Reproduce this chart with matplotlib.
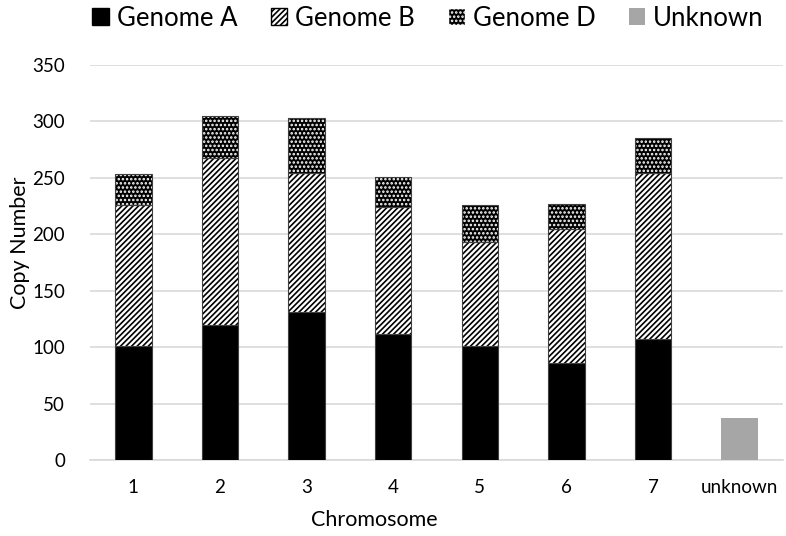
import matplotlib
matplotlib.use("Agg")
import matplotlib.pyplot as plt
import numpy as np
from matplotlib.patches import Patch

plt.rcParams['font.family'] = ['Lato', 'DejaVu Sans']
plt.rcParams['hatch.linewidth'] = 1.2

categories = ['1', '2', '3', '4', '5', '6', '7', 'unknown']
genome_a = [101, 120, 131, 112, 101, 86, 107, 0]
genome_b = [125, 148, 123, 112, 92, 119, 147, 0]
genome_d = [27, 37, 49, 27, 33, 22, 31, 0]
unknown = [0, 0, 0, 0, 0, 0, 0, 37]

fig = plt.figure(figsize=(7.86, 5.36), dpi=100)
ax = fig.add_axes([90/786, 1-460/536, (783-90)/786, (460-65)/536])

x = np.arange(len(categories))
w = 0.42
a = np.array(genome_a); b = np.array(genome_b); d = np.array(genome_d)
n = 7
ax.bar(x[:n], a[:n], w, color='black', edgecolor='#404040', linewidth=0.8, zorder=3)
ax.bar(x[:n], b[:n], w, bottom=a[:n], facecolor='white', edgecolor='black', hatch='//////', linewidth=0, zorder=3)
ax.bar(x[:n], b[:n], w, bottom=a[:n], fill=False, edgecolor='#404040', linewidth=0.8, zorder=4)
ax.bar(x[:n], d[:n], w, bottom=(a+b)[:n], facecolor='black', edgecolor='white', hatch='....', linewidth=0, zorder=3)
ax.bar(x[:n], d[:n], w, bottom=(a+b)[:n], fill=False, edgecolor='#404040', linewidth=0.8, zorder=4)
ax.bar(x[n:], np.array(unknown)[n:], w, color='#A6A6A6', linewidth=0, zorder=3)

handles = [Patch(facecolor='black', edgecolor='black', label='Genome A'),
           Patch(facecolor='white', edgecolor='black', hatch='//////', label='Genome B'),
           Patch(facecolor='black', edgecolor='white', hatch='....', label='Genome D'),
           Patch(facecolor='#A6A6A6', edgecolor='none', label='Unknown')]
leg = fig.legend(handles=handles, loc='center', bbox_to_anchor=(428/786, 1-18/536), ncol=4,
                 frameon=False, fontsize=18.5, handlelength=0.65, handleheight=0.65,
                 handletextpad=0.3, columnspacing=1.3, borderaxespad=0, borderpad=0)

ax.set_ylim(0, 350)
ax.set_xlim(-0.5, 7.5)
ax.set_yticks(range(0, 351, 50))
ax.set_xticks(x)
ax.set_xticklabels(categories)
ax.yaxis.grid(True, color='#D9D9D9', linewidth=1.2, zorder=0)
ax.set_axisbelow(True)
for s in ['top', 'right', 'left']:
    ax.spines[s].set_visible(False)
ax.spines['bottom'].set_color('#D9D9D9')
ax.spines['bottom'].set_linewidth(1.2)
ax.tick_params(axis='both', length=0, labelsize=13.5, colors='#000000')
ax.tick_params(axis='x', pad=14)
ax.tick_params(axis='y', pad=18)
ax.set_xlabel('Chromosome', fontsize=15.5, va='center', ha='center')
ax.set_ylabel('Copy Number', fontsize=15.5, va='center', ha='center')
ax.xaxis.set_label_coords((374-90)/693, (460-520)/395)
ax.yaxis.set_label_coords((20-90)/693, (460-243)/395)

fig.savefig('out.png', dpi=100)
